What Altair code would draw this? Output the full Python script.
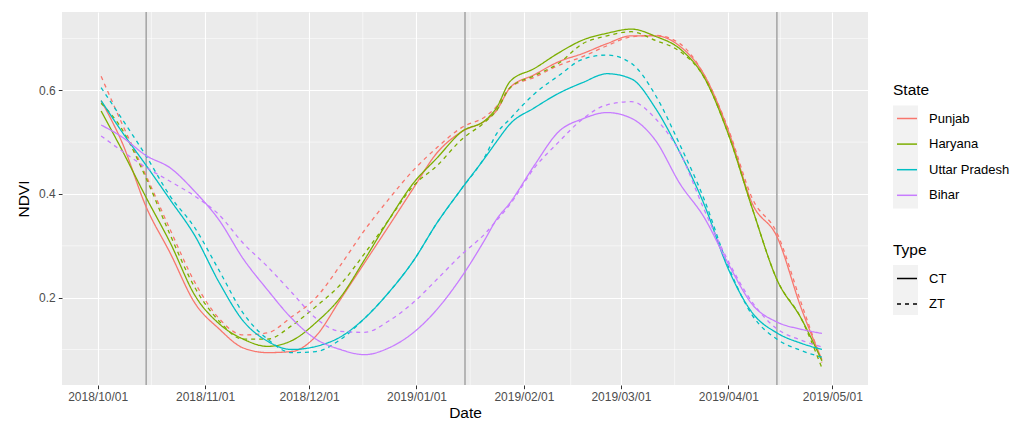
import altair as alt
import pandas as pd

dates = ["2018-10-02", "2018-10-08", "2018-10-15", "2018-10-22", "2018-10-29",
         "2018-11-05", "2018-11-12", "2018-11-19", "2018-11-26", "2018-12-03",
         "2018-12-10", "2018-12-17", "2018-12-24", "2018-12-31", "2019-01-07",
         "2019-01-14", "2019-01-21", "2019-01-24", "2019-01-28", "2019-02-04",
         "2019-02-11", "2019-02-18", "2019-02-25", "2019-03-04", "2019-03-11",
         "2019-03-18", "2019-03-25", "2019-04-01", "2019-04-08", "2019-04-15",
         "2019-04-22", "2019-04-28"]

punjab_ct = [0.580, 0.500, 0.375, 0.285, 0.190, 0.140, 0.103, 0.094, 0.096, 0.126,
             0.196, 0.267, 0.338, 0.410, 0.480, 0.520, 0.542, 0.560, 0.605, 0.630,
             0.655, 0.671, 0.690, 0.705, 0.705, 0.685, 0.630, 0.522, 0.380, 0.318,
             0.180, 0.080]
punjab_zt = [0.627, 0.536, 0.435, 0.330, 0.230, 0.160, 0.128, 0.132, 0.163, 0.200,
             0.262, 0.330, 0.390, 0.445, 0.490, 0.528, 0.550, 0.568, 0.605, 0.625,
             0.648, 0.665, 0.686, 0.703, 0.706, 0.690, 0.630, 0.525, 0.390, 0.325,
             0.190, 0.075]
haryana_ct = [0.560, 0.485, 0.393, 0.305, 0.205, 0.150, 0.120, 0.106, 0.117, 0.152,
              0.200, 0.273, 0.350, 0.420, 0.470, 0.520, 0.543, 0.565, 0.617, 0.642,
              0.672, 0.697, 0.710, 0.718, 0.704, 0.680, 0.625, 0.515, 0.370, 0.235,
              0.160, 0.078]
haryana_zt = [0.575, 0.525, 0.430, 0.320, 0.220, 0.155, 0.120, 0.120, 0.146, 0.183,
              0.225, 0.285, 0.350, 0.415, 0.455, 0.505, 0.540, 0.560, 0.605, 0.628,
              0.652, 0.690, 0.705, 0.713, 0.696, 0.675, 0.625, 0.515, 0.370, 0.235,
              0.160, 0.064]
up_ct = [0.580, 0.520, 0.455, 0.388, 0.320, 0.230, 0.155, 0.116, 0.100, 0.106,
         0.124, 0.160, 0.210, 0.270, 0.345, 0.410, 0.472, 0.500, 0.535, 0.566,
         0.594, 0.615, 0.632, 0.622, 0.565, 0.480, 0.380, 0.255, 0.170, 0.132,
         0.112, 0.100]
up_zt = [0.605, 0.545, 0.473, 0.395, 0.335, 0.253, 0.170, 0.120, 0.094, 0.096,
         0.119, 0.160, 0.210, 0.270, 0.345, 0.410, 0.475, 0.515, 0.545, 0.593,
         0.628, 0.660, 0.668, 0.652, 0.590, 0.495, 0.390, 0.260, 0.165, 0.120,
         0.098, 0.085]
bihar_ct = [0.533, 0.510, 0.474, 0.450, 0.405, 0.350, 0.275, 0.215, 0.160, 0.120,
            0.100, 0.090, 0.103, 0.132, 0.178, 0.240, 0.315, 0.350, 0.383, 0.455,
            0.520, 0.545, 0.557, 0.546, 0.503, 0.420, 0.355, 0.265, 0.186, 0.153,
            0.139, 0.131]
bihar_zt = [0.512, 0.483, 0.451, 0.424, 0.396, 0.360, 0.305, 0.260, 0.210, 0.160,
            0.135, 0.133, 0.155, 0.190, 0.236, 0.283, 0.325, 0.348, 0.380, 0.450,
            0.500, 0.545, 0.572, 0.578, 0.545, 0.480, 0.370, 0.270, 0.190, 0.140,
            0.118, 0.105]

states = ["Punjab", "Haryana", "Uttar Pradesh", "Bihar"]
state_colors = ["#F8766D", "#7CAE00", "#00BFC4", "#C77CFF"]
types = ["CT", "ZT"]

vline_dates = ["2018-10-15", "2019-01-15", "2019-04-15"]
major_dates = [(2018, 10), (2018, 11), (2018, 12), (2019, 1), (2019, 2), (2019, 3), (2019, 4), (2019, 5)]
minor_dates = ["2018-10-16T12:00:00Z", "2018-11-16T00:00:00Z", "2018-12-16T12:00:00Z",
               "2019-01-16T12:00:00Z", "2019-02-14T12:00:00Z", "2019-03-16T12:00:00Z",
               "2019-04-16T00:00:00Z"]
y_major = [0.2, 0.4, 0.6]
y_minor = [0.1, 0.3, 0.5, 0.7]

series = [("Punjab", "CT", punjab_ct), ("Punjab", "ZT", punjab_zt),
          ("Haryana", "CT", haryana_ct), ("Haryana", "ZT", haryana_zt),
          ("Uttar Pradesh", "CT", up_ct), ("Uttar Pradesh", "ZT", up_zt),
          ("Bihar", "CT", bihar_ct), ("Bihar", "ZT", bihar_zt)]
rows = []
for st, ty, vals in series:
    for d, v in zip(dates, vals):
        rows.append({"Date": d, "NDVI": v, "State": st, "Type": ty})
df = pd.DataFrame(rows)

FONT = "Liberation Sans"

xscale = alt.Scale(type="utc", domain=[
    alt.DateTime(year=2018, month=9, date=20, hours=17, utc=True),
    alt.DateTime(year=2019, month=5, date=11, hours=7, utc=True)])
yscale = alt.Scale(domain=[0.0315, 0.751], nice=False, zero=False)

xaxis = alt.Axis(values=[alt.DateTime(year=y, month=m, date=1, utc=True) for y, m in major_dates],
                 format="%Y/%m/%d", title="Date", labelPadding=3, titlePadding=3)
yaxis = alt.Axis(values=y_major, format=".1f", title="NDVI", labelPadding=3, titlePadding=7)

minor_x = alt.Chart(pd.DataFrame({"Date": minor_dates})).mark_rule(
    color="white", strokeWidth=0.55).encode(x=alt.X("Date:T", scale=xscale, axis=xaxis))
minor_y = alt.Chart(pd.DataFrame({"NDVI": y_minor})).mark_rule(
    color="white", strokeWidth=0.55).encode(y=alt.Y("NDVI:Q", scale=yscale, axis=yaxis))

one = pd.DataFrame({"k": [0]})
keybox_state = alt.Chart(one).mark_rect(color="#F2F2F2").encode(
    x=alt.value(831), x2=alt.value(856), y=alt.value(93.5), y2=alt.value(196.5))
keybox_type = alt.Chart(one).mark_rect(color="#F2F2F2").encode(
    x=alt.value(831), x2=alt.value(856), y=alt.value(253), y2=alt.value(303))

vlines = alt.Chart(pd.DataFrame({"Date": vline_dates})).mark_rule(
    color="#A3A3A3", strokeWidth=1.5).encode(x=alt.X("Date:T", scale=xscale, axis=xaxis))

lines = alt.Chart(df).mark_line(strokeWidth=1.3, interpolate="monotone").encode(
    x=alt.X("Date:T", scale=xscale, axis=xaxis),
    y=alt.Y("NDVI:Q", scale=yscale, axis=yaxis),
    color=alt.Color("State:N", scale=alt.Scale(domain=states, range=state_colors),
                    legend=alt.Legend(title="State", orient="none", legendX=831, legendY=71,
                                      symbolType="stroke", symbolSize=400, symbolStrokeWidth=1.5,
                                      symbolOffset=3, labelOffset=11, rowPadding=7.6,
                                      titlePadding=9, labelFontSize=13, titleFontSize=15.5)),
    strokeDash=alt.StrokeDash("Type:N", scale=alt.Scale(domain=types, range=[[1, 0], [4, 4]]),
                              legend=alt.Legend(title="Type", orient="none", legendX=831, legendY=231,
                                                symbolType="stroke", symbolSize=400,
                                                symbolStrokeWidth=1.5, symbolStrokeColor="black",
                                                symbolOffset=3, labelOffset=11, rowPadding=7.6,
                                                titlePadding=9, labelFontSize=13,
                                                titleFontSize=15.5)),
    detail=alt.Detail("State:N"),
)

chart = alt.layer(minor_x, minor_y, keybox_state, keybox_type, vlines, lines).properties(
    width=806, height=373,
    autosize=alt.AutoSizeParams(type="none"),
    padding={"left": 62, "top": 12, "right": 152, "bottom": 39},
    background="white",
).configure_view(fill="#EBEBEB", stroke=None).configure_axis(
    grid=True, gridColor="white", gridWidth=1.1, domain=False,
    tickColor="#333333", tickSize=3.7, tickWidth=1,
    labelColor="#4D4D4D", labelFont=FONT, labelFontSize=12,
    titleFont=FONT, titleFontSize=15.5, titleFontWeight="normal", titleColor="black",
).configure_legend(
    labelFont=FONT, titleFont=FONT, labelColor="black", titleColor="black",
    titleFontWeight="normal", padding=0,
)

chart.save("out.html", embed_options={"renderer": "svg", "actions": False})
